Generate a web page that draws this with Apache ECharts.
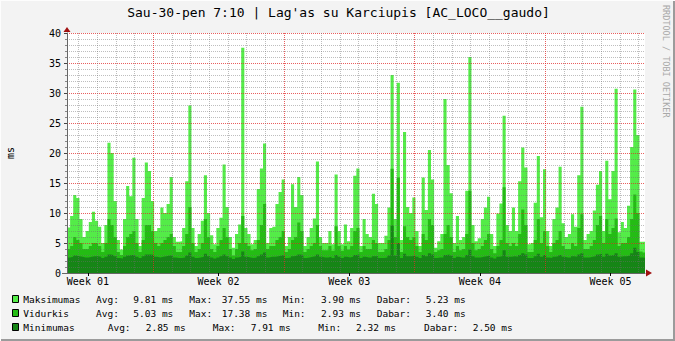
<!DOCTYPE html>
<html><head><meta charset="utf-8">
<script src="https://cdn.jsdelivr.net/npm/echarts@6/dist/echarts.min.js"></script>
<style>html,body{margin:0;padding:0;background:#f3f3f3;}#c{width:675px;height:341px;}</style>
</head><body><div id="c"></div>
<script>
// ---- data (days; one value per 4 hours) ----
const tMin = 2.38, tMax = 33.344, stepsPerDay = 6;
const weekTicks = [3.5, 10.5, 17.5, 24.5, 31.5];
const weekLabels = ['Week 01', 'Week 02', 'Week 03', 'Week 04', 'Week 05'];
const dayLines = [3,4,5,6,8,9,10,11,12,13,15,16,17,18,19,20,22,23,24,25,26,27,29,30,31,32,33];
const weekLines = [7, 14, 21, 28];

const maxV = [
 7.6,9.5,13,12.5,9,6,7,8.5,10.2,8.7,
 7.7,5,8,21.7,20,12,5.5,3.9,9,14.5,
 12.8,19.2,9,4.5,12.5,18.4,17,12,7,7.5,
 10.9,10,11.5,16,6,5.2,5.3,7.5,15.3,27.9,
 7.5,4.5,6.5,8.7,16.3,10,6.3,4.8,7.5,9.2,
 18.1,11,6,4.2,6.5,8.1,37.55,7.5,6.5,4.8,
 5.5,14,17.4,21.6,5,7.5,7.7,11.5,13.5,15.6,
 4.5,6,14.8,11,16,13,4.5,6,7.5,9.1,
 18.6,6,5,5,7,4.8,16.4,7,4.8,8.1,
 5.3,7.5,16.2,17.4,4.5,9,6.5,6,13.2,11.5,
 5,5,6.2,10.9,33,9,31.7,5.5,23.5,11,
 10,12.6,7,4.5,15.9,10.5,20.5,15.6,4.2,5.3,
 6.5,29,18,13.3,5,9.5,5.5,6,13.7,36,
 8,5.3,5.8,9,10.9,12.7,6.5,4.5,9.9,11.6,
 26.2,8,7,10.9,7,15.3,20.9,17.6,4.8,5,
 11.7,19.5,9.3,17.3,7,4.5,9,10.9,17.7,8.3,
 6,6.5,9.8,7.7,16.3,27.7,5.5,6.5,7,10.4,
 14.7,17,7,18.7,12.3,17,30.7,6.8,8.5,7.5,
 11.2,21,30.6,23,5.2,5.23
];
const avgV = [
 4.0,4.5,6,5.5,5,4,4,4.5,5,5,
 4.5,3.5,5,9,8,6,3.5,3.0,4.5,6,
 6.5,7,5,3.5,5.5,8,8,7,5,4.5,
 5,5.5,6,6.5,4.5,3.5,3.5,4.5,6.5,11,
 5,3.5,4,5,9,6,4,3.5,4.5,5.5,
 7.5,6,4,2.93,4,5,9.5,5,4.5,3.8,
 4,5.5,8,11.5,4,4.5,4.5,5.5,6,7,
 3.5,4,5.5,6,8.4,7,3.5,4,4.5,5,
 8,4.5,3.8,3.8,4.5,3.7,7.8,4.5,3.7,4.5,
 3.9,4.5,7,7.5,3.5,4.5,4,4,5.5,5,
 3.5,3.5,4,5.5,17.38,6,15.9,3.5,7.8,6,
 5.5,6,4.5,3.5,6.5,5.5,9,8,3.5,3.8,
 4,6.5,8,6,3.5,4.5,3.8,4,6.5,13.7,
 5,3.8,4,4.5,5.5,6.5,4,3.3,4.5,5.5,
 14.3,5,4.5,5,4.5,6.5,10.6,8,3.5,3.5,
 5.5,9,5,7,4.5,3.5,5,5.5,7,4.5,
 4,4,5,4.5,7.5,9.8,4,4,4.5,5.5,
 8,9.5,5,9,6.5,7.5,9.1,4.5,5,5,
 6,9,13.1,10,3.6,3.4
];
const minV = [
 2.6,2.7,2.9,2.8,2.7,2.6,2.6,2.7,2.8,2.8,
 2.7,2.5,2.7,3.1,3.0,2.8,2.5,2.4,2.7,2.9,
 3.0,3.0,2.7,2.5,2.8,3.1,3.1,3.0,2.7,2.6,
 2.7,2.8,2.9,2.9,2.6,2.5,2.5,2.6,2.9,3.4,
 2.7,2.5,2.6,2.7,3.2,2.8,2.6,2.4,2.6,2.8,
 3.1,2.8,2.6,2.32,2.6,2.7,3.6,2.7,2.6,2.5,
 2.6,2.8,3.1,3.4,2.6,2.7,2.7,2.8,2.9,3.0,
 2.5,2.6,2.8,2.9,3.1,3.0,2.5,2.6,2.7,2.8,
 3.1,2.7,2.6,2.6,2.7,2.5,3.0,2.7,2.5,2.7,
 2.6,2.7,3.0,3.1,2.5,2.7,2.6,2.6,2.8,2.8,
 2.5,2.5,2.6,2.9,7.91,2.9,5.0,2.5,3.2,2.8,
 2.8,2.9,2.7,2.5,3.0,2.8,3.3,3.1,2.5,2.6,
 2.6,3.0,3.1,2.9,2.5,2.7,2.6,2.6,3.0,3.9,
 2.8,2.6,2.6,2.7,2.8,2.9,2.6,2.4,2.7,2.8,
 3.8,2.7,2.7,2.8,2.7,3.0,3.3,3.1,2.5,2.5,
 2.8,3.2,2.7,3.0,2.6,2.5,2.7,2.8,3.0,2.7,
 2.6,2.6,2.8,2.7,3.1,3.3,2.6,2.6,2.7,2.8,
 3.1,3.2,2.7,3.2,2.9,3.0,3.3,2.7,2.8,2.8,
 2.9,3.3,4.2,3.5,2.6,2.5
];

const title = "Sau-30-pen 7:10 | Lag'as su Karciupis [AC_LOCO__gaudo]";
const yName = 'ms';
const credit = 'RRDTOOL / TOBI OETIKER';
const legendNames = ['Maksimumas', 'Vidurkis', 'Minimumas'];
const legendAvg = ['9.81', '5.03', '2.85'];
const legendMax = ['37.55', '17.38', '7.91'];
const legendMin = ['3.90', '2.93', '2.32'];
const legendNow = ['5.23', '3.40', '2.50'];
const unit = 'ms';

// ---- styling ----
const colors = ['#54EC48', '#24BC14', '#168516'];
const MONO = '"DejaVu Sans Mono", "Liberation Mono", monospace';
const minorGrid = 'rgba(110,110,110,0.45)';
const majorGrid = 'rgba(225,40,40,0.75)';

function toSteps(vals) {
  const d = vals.map((v, i) => [tMin + i / stepsPerDay, v]);
  d.push([tMin + vals.length / stepsPerDay, vals[vals.length - 1]]);
  return d;
}

const chart = echarts.init(document.getElementById('c'), null, {renderer: 'svg', width: 675, height: 341});

const mkSeries = (name, vals, i) => ({
  name, type: 'line', step: 'end', xAxisIndex: 0,
  data: toSteps(vals), symbol: 'none', showSymbol: false, silent: true,
  lineStyle: {width: 0, opacity: 0}, areaStyle: {color: colors[i], opacity: 1},
  z: 2, animation: false
});
const series = [mkSeries(legendNames[0], maxV, 0), mkSeries(legendNames[1], avgV, 1), mkSeries(legendNames[2], minV, 2)];

// vertical grid: two overlay axes whose ticks are the day / week boundaries
const gridAxis = (vals, color) => ({
  type: 'value', min: tMin, max: tMax, z: 3,
  axisLine: {show: false}, axisLabel: {show: false},
  axisTick: {show: false, customValues: vals},
  splitLine: {show: true, lineStyle: {color: color, width: 1, type: [1, 1]}}
});

const graphics = [];
// frame
graphics.push({type: 'rect', shape: {x: 673, y: 0, width: 2, height: 341}, style: {fill: '#9b9b9b'}, silent: true});
graphics.push({type: 'rect', shape: {x: 0, y: 339, width: 675, height: 2}, style: {fill: '#9b9b9b'}, silent: true});
graphics.push({type: 'rect', shape: {x: 0, y: 0, width: 675, height: 1}, style: {fill: '#fdfdfd'}, silent: true});
graphics.push({type: 'rect', shape: {x: 0, y: 0, width: 1, height: 341}, style: {fill: '#fdfdfd'}, silent: true});
// axis extensions + arrows
graphics.push({type: 'line', shape: {x1: 62, y1: 273.5, x2: 67, y2: 273.5}, style: {stroke: '#666', lineWidth: 1}, z: 10, silent: true});
graphics.push({type: 'polygon', shape: {points: [[63.5, 32], [70.5, 32], [67, 27]]}, style: {fill: '#a01010'}, z: 10, silent: true});
graphics.push({type: 'polygon', shape: {points: [[646, 269.5], [646, 276.5], [652, 273]]}, style: {fill: '#a01010'}, z: 10, silent: true});
// title
graphics.push({type: 'text', x: 338.5, y: 12, style: {text: title, font: '13px ' + MONO, fill: '#000', align: 'center', verticalAlign: 'middle'}, silent: true});
// credit
graphics.push({type: 'text', x: 666, y: 5, rotation: -Math.PI / 2,
  style: {text: credit, font: '8.5px ' + MONO, fill: '#a8a8a8', align: 'left', verticalAlign: 'middle'}, silent: true});
// legend
const rowY = [299, 313, 327];
const colX = [
  [96, 133.3, 189.3, 221.7, 282.7, 321, 376.7, 425.7],
  [96, 133.3, 189.3, 221.7, 282.7, 321, 376.7, 425.7],
  [107.7, 145.7, 212.7, 250.7, 318.3, 356, 424, 472.7]
];
legendNames.forEach((nm, r) => {
  const y = rowY[r];
  graphics.push({type: 'rect', shape: {x: 12.5, y: y - 3.5, width: 6, height: 7}, style: {fill: colors[r], stroke: '#000', lineWidth: 1}, silent: true});
  const parts = [nm, 'Avg:', legendAvg[r] + ' ' + unit, 'Max:', legendMax[r] + ' ' + unit, 'Min:', legendMin[r] + ' ' + unit, 'Dabar:', legendNow[r] + ' ' + unit];
  const xs = [23.3].concat(colX[r]);
  parts.forEach((p, k) => {
    graphics.push({type: 'text', x: xs[k], y: y, style: {text: p, font: '9.5px ' + MONO, fill: '#000', align: 'left', verticalAlign: 'middle'}, silent: true});
  });
});

chart.setOption({
  animation: false,
  backgroundColor: '#f3f3f3',
  grid: {left: 67, top: 33, width: 578, height: 240, show: true, backgroundColor: '#ffffff', borderWidth: 0,
    containLabel: false, outerBoundsMode: 'none'},
  xAxis: [{
    type: 'value', min: tMin, max: tMax, z: 4,
    axisLine: {show: true, lineStyle: {color: '#666', width: 1}},
    axisTick: {show: true, customValues: weekTicks, length: 3, lineStyle: {color: '#000'}},
    axisLabel: {show: true, customValues: weekTicks, margin: 3, fontFamily: MONO, fontSize: 10, color: '#000',
      formatter: v => weekLabels[weekTicks.indexOf(v)] || ''},
    splitLine: {show: false}
  }, gridAxis(dayLines, minorGrid), gridAxis(weekLines, majorGrid)],
  yAxis: {
    type: 'value', min: 0, max: 40, interval: 5, z: 3,
    name: yName, nameLocation: 'middle', nameGap: 52, nameRotate: 90,
    nameTextStyle: {fontFamily: MONO, fontSize: 10, color: '#000'},
    axisLine: {show: true, lineStyle: {color: '#666', width: 1}},
    axisTick: {show: true, length: 3, lineStyle: {color: '#444'}},
    minorTick: {show: true, splitNumber: 5, length: 2, lineStyle: {color: '#888'}},
    axisLabel: {fontFamily: MONO, fontSize: 10, color: '#000', margin: 6},
    splitLine: {show: true, lineStyle: {color: majorGrid, width: 1, type: [1, 1]}},
    minorSplitLine: {show: true, lineStyle: {color: minorGrid, width: 1, type: [1, 1]}}
  },
  series: series,
  graphic: graphics
});
</script>
</body></html>
